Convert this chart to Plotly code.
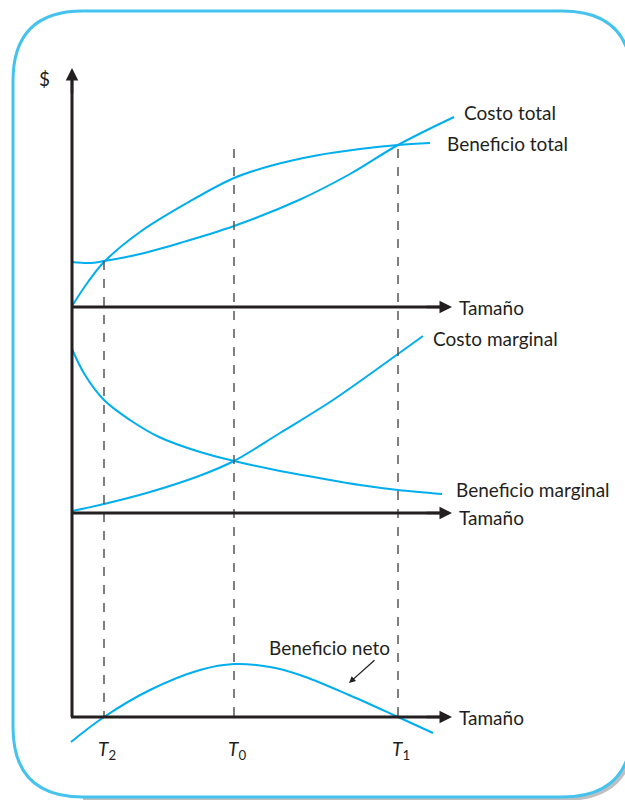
import plotly.graph_objects as go

# === Curvas (coordenadas en píxeles del diagrama) ===
tam_costo_total = [72, 90, 104, 140, 180, 234, 299, 350, 398, 454]
val_costo_total = [262, 263, 261, 254, 243, 226, 200, 174, 145, 117]

tam_benef_total = [72, 88, 104, 140, 187, 234, 270, 319, 360, 398, 430]
val_benef_total = [306, 282, 262, 232, 203, 178, 166, 155, 149, 145, 143]

tam_costo_marg = [72, 104, 150, 199, 234, 280, 333, 398, 423]
val_costo_marg = [511, 504, 492, 476, 461, 433, 400, 354, 336]

tam_benef_marg = [72, 85, 104, 130, 159, 200, 234, 280, 319, 360, 398, 442]
val_benef_marg = [349, 375, 400, 420, 437, 452, 461, 471, 478, 485, 490, 494]

tam_benef_neto = [71, 104, 150, 200, 234, 270, 300, 349, 398, 433]
val_benef_neto = [742, 717, 690, 670, 664, 667, 675, 695, 717, 733]

# Tamaños de referencia
cortes_sub = ["2", "0", "1"]
cortes_x = [104, 234, 398]
cortes_tope = [261, 149, 149]

AZUL = "#00aeef"
BORDE = "#45c3ee"
NEGRO = "#231f20"
FUENTE = "Lato"
TAM_LETRA = 19

fig = go.Figure()

for xs, ys in [(tam_costo_total, val_costo_total), (tam_benef_total, val_benef_total),
               (tam_costo_marg, val_costo_marg), (tam_benef_marg, val_benef_marg),
               (tam_benef_neto, val_benef_neto)]:
    fig.add_trace(go.Scatter(x=xs, y=ys, mode="lines", line=dict(color=AZUL, width=2, shape="spline"),
                             showlegend=False, hoverinfo="skip"))

shapes = []
# marco redondeado con sombra
x0, y0, x1, y1, r = 13, 11, 632, 797, 70
marco = (f"M {x0},{y0+r} Q {x0},{y0} {x0+r},{y0} L {x1-r},{y0} Q {x1},{y0} {x1},{y0+r} "
         f"L {x1},{y1-r} Q {x1},{y1} {x1-r},{y1} L {x0+r},{y1} Q {x0},{y1} {x0},{y1-r} Z")
sombra = (f"M {x1+2},{y0+r} L {x1+2},{y1-r+2} Q {x1+2},{y1+2} {x1-r+2},{y1+2} L {x0+r},{y1+2}")
shapes.append(dict(type="path", path=sombra, line=dict(color="rgba(0,0,0,0.25)", width=4)))
shapes.append(dict(type="path", path=marco, line=dict(color=BORDE, width=3)))

# líneas punteadas
for x, top in zip(cortes_x, cortes_tope):
    shapes.append(dict(type="line", x0=x, x1=x, y0=top, y1=717,
                       line=dict(color="#555555", width=1.5, dash="dash")))

# ejes
shapes.append(dict(type="line", x0=72, x1=72, y0=717, y1=80, line=dict(color=NEGRO, width=3)))
for yy in [307, 513, 717]:
    shapes.append(dict(type="line", x0=71, x1=440, y0=yy, y1=yy, line=dict(color=NEGRO, width=3)))

fig.update_layout(shapes=shapes)

ann = []
# puntas de flecha de los ejes
ann.append(dict(x=72, y=68, ax=72, ay=95, xref="x", yref="y", axref="x", ayref="y", text="",
                showarrow=True, arrowhead=2, arrowsize=1, arrowwidth=2.5, arrowcolor=NEGRO))
for yy in [307, 513, 717]:
    ann.append(dict(x=452, y=yy, ax=425, ay=yy, xref="x", yref="y", axref="x", ayref="y", text="",
                    showarrow=True, arrowhead=2, arrowsize=1, arrowwidth=2.5, arrowcolor=NEGRO))
    ann.append(dict(x=457, y=yy + (4 if yy == 513 else 0), text="Tamaño", showarrow=False,
                    xanchor="left", yanchor="middle"))

textos = [("$", 44, 78, "center"), ("Costo total", 462, 112, "left"), ("Beneficio total", 445, 143, "left"),
          ("Costo marginal", 431, 338, "left"), ("Beneficio marginal", 454, 489, "left"),
          ("Beneficio neto", 329, 647, "center")]
for t, x, y, xa in textos:
    ann.append(dict(x=x, y=y, text=t, showarrow=False, xanchor=xa, yanchor="middle"))

for sub, x in zip(cortes_sub, cortes_x):
    ann.append(dict(x=x + 3, y=750, text=f"<i>T</i><sub>{sub}</sub>", showarrow=False,
                    xanchor="center", yanchor="middle"))

# flecha de "Beneficio neto"
ann.append(dict(x=349, y=683, ax=376, ay=659, xref="x", yref="y", axref="x", ayref="y", text="",
                showarrow=True, arrowhead=2, arrowsize=1, arrowwidth=1.3, arrowcolor=NEGRO))

for a in ann:
    a.setdefault("xref", "x")
    a.setdefault("yref", "y")
    a.setdefault("font", dict(family=FUENTE, size=TAM_LETRA, color=NEGRO))

fig.update_layout(
    annotations=ann,
    width=625, height=800,
    margin=dict(l=0, r=0, t=0, b=0),
    paper_bgcolor="white", plot_bgcolor="white",
    xaxis=dict(range=[0, 625], visible=False, fixedrange=True),
    yaxis=dict(range=[800, 0], visible=False, fixedrange=True),
)

# sin margen en la página para que las unidades coincidan con píxeles
fig.write_html("out.html", config={"displayModeBar": False},
               post_script="document.body.style.margin='0';document.body.style.overflow='hidden';")
